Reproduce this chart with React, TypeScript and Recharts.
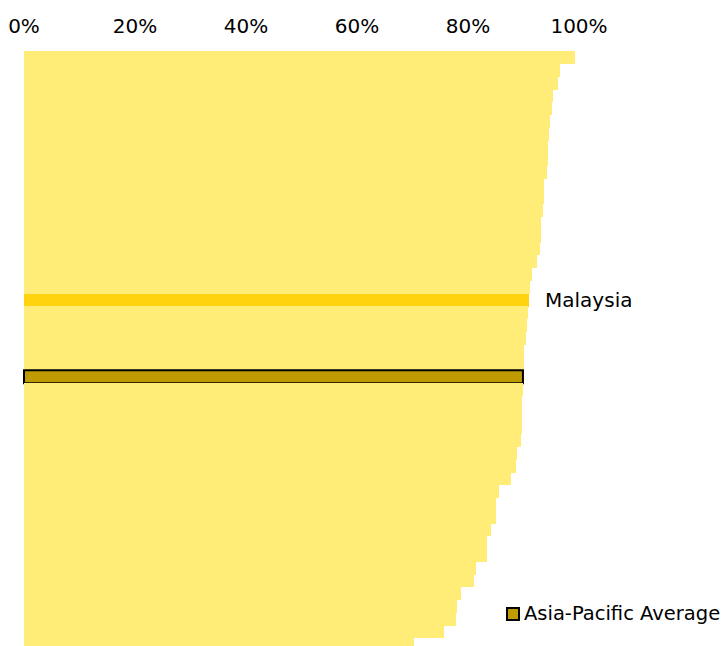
import { BarChart, Bar, XAxis, YAxis, Cell, LabelList } from 'recharts'

// ranked share, top to bottom (only Malaysia and the regional average are named on the chart)
const countries = [
  'C01','C02','C03','C04','C05','C06','C07','C08','C09','C10',
  'C11','C12','C13','C14','C15','C16','C17','C18','C19','Malaysia',
  'C21','C22','C23','C24','C25','Asia-Pacific Average','C27','C28','C29','C30',
  'C31','C32','C33','C34','C35','C36','C37','C38','C39','C40',
  'C41','C42','C43','C44','C45','C46','C47',
]
const shares = [
  99.3, 96.6, 96.2, 95.3, 95.1, 94.8, 94.6, 94.5, 94.5, 94.2,
  93.7, 93.7, 93.5, 93.2, 93.1, 93.0, 92.5, 91.5, 91.2, 91.0,
  90.8, 90.6, 90.4, 90.1, 90.0, 89.9, 89.9, 89.8, 89.8, 89.7,
  89.5, 88.9, 88.6, 87.8, 85.5, 85.0, 85.0, 84.1, 83.5, 83.5,
  81.4, 81.0, 78.7, 78.1, 77.8, 75.6, 70.3,
]
const ticks = [0, 20, 40, 60, 80, 100]

const HIGHLIGHT = 'Malaysia'
const AVERAGE = 'Asia-Pacific Average'
const FONT = '"DejaVu Sans", sans-serif'

const data = countries.map((name, i) => ({ name, value: shares[i] }))

const colorFor = (name: string) =>
  name === HIGHLIGHT ? '#FFD40F' : name === AVERAGE ? '#BF9A00' : '#FFED78'

const renderLabel = (props: any) => {
  const { x, y, width, height, value } = props
  if (value !== HIGHLIGHT) return null
  return (
    <text x={x + width + 16} y={y + height / 2} dominantBaseline="central"
      fontSize={20} fontFamily={FONT} fill="#000">{value}</text>
  )
}

export default function App() {
  return (
    <div style={{position:'fixed',top:0,left:0,width:725,height:646,overflow:'hidden',background:'#fff'}}>
      <BarChart width={725} height={651} data={data} layout="vertical" barCategoryGap={0}
        margin={{top:0,right:146,bottom:0,left:24}}>
        <XAxis type="number" domain={[0,100]} ticks={ticks} interval={0} orientation="top"
          axisLine={false} tickLine={false} tickSize={0} tickMargin={18} height={51}
          tickFormatter={(v)=>`${v}%`} tick={{fill:'#000',fontSize:20,fontFamily:FONT}}/>
        <YAxis type="category" dataKey="name" hide/>
        <Bar dataKey="value" isAnimationActive={false}>
          {data.map(d => (
            <Cell key={d.name} fill={colorFor(d.name)} shapeRendering={d.name === AVERAGE ? undefined : 'crispEdges'}
              stroke={d.name === AVERAGE ? '#000' : 'none'} strokeWidth={d.name === AVERAGE ? 2 : 0}/>
          ))}
          <LabelList dataKey="name" content={renderLabel}/>
        </Bar>
      </BarChart>
      <div style={{position:'absolute',left:506,top:602,display:'flex',alignItems:'center',fontFamily:FONT,fontSize:19.5,color:'#000',whiteSpace:'nowrap'}}>
        <span style={{display:'inline-block',width:10,height:10,background:'#BF9A00',border:'2px solid #000',marginRight:4}}/>
        {AVERAGE}
      </div>
    </div>
  )
}
